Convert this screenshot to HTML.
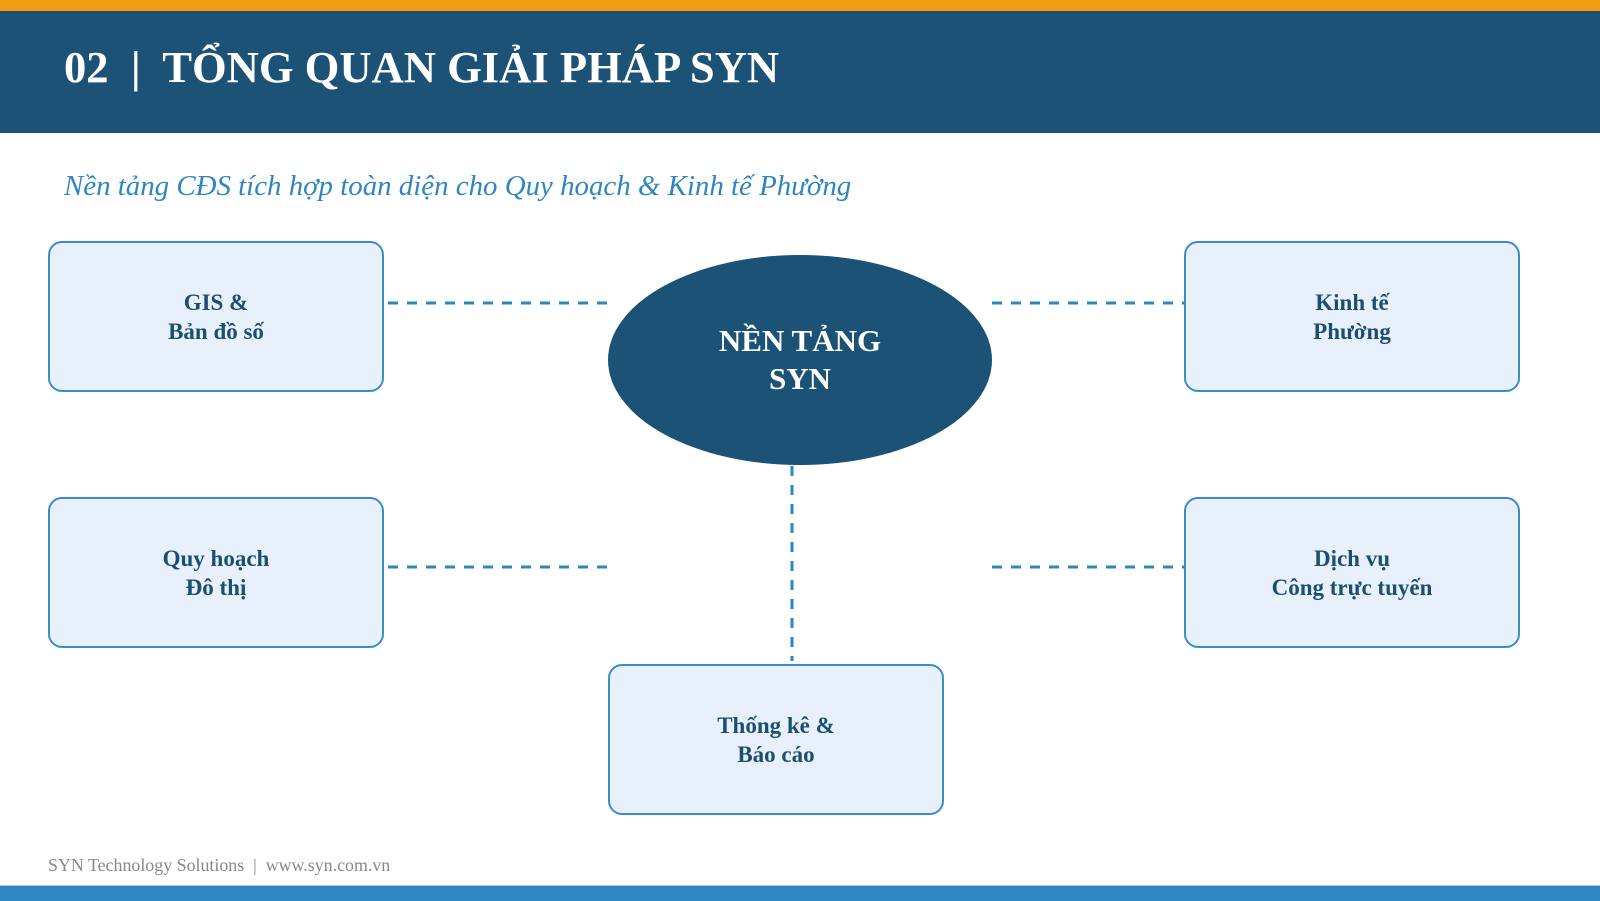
<!DOCTYPE html>
<html><head><meta charset="utf-8"><style>
body{margin:0;width:1600px;height:900px;position:relative;background:#fff;font-family:"Liberation Serif",serif;overflow:hidden}
.top{position:absolute;left:0;top:0;width:1600px;height:11px;background:#f39c12}
.hdr{position:absolute;left:0;top:11px;width:1600px;height:122px;background:#1b5276}
.title{position:absolute;left:64px;top:41px;color:#fff;font-weight:bold;font-size:44.6px;white-space:nowrap}
.sub{position:absolute;left:64px;top:170px;color:#2e86c1;font-style:italic;font-size:28.9px;white-space:nowrap}
.box{position:absolute;width:332px;height:147px;border:2.5px solid #3a8dc8;border-radius:14px;background:#e8f1fb;display:flex;align-items:center;justify-content:center;text-align:center;color:#1b4f72;font-weight:bold;font-size:23px;line-height:29px}
.foot{position:absolute;left:48px;top:855px;color:#888;font-size:17.9px;white-space:nowrap}
.bot{position:absolute;left:0;top:885px;width:1600px;height:15px;background:#2e86c1;border-top:1px solid #a9cce3}
</style></head><body>
<div class="top"></div><div class="hdr"></div>
<div class="title">02 &nbsp;|&nbsp; TỔNG QUAN GIẢI PHÁP SYN</div>
<div class="sub">Nền tảng CĐS tích hợp toàn diện cho Quy hoạch &amp; Kinh tế Phường</div>
<svg style="position:absolute;left:0;top:0" width="1600" height="900">
<g stroke="#2e86c1" stroke-width="3" stroke-dasharray="10,9" fill="none">
<line x1="388" y1="303" x2="608" y2="303"/><line x1="992" y1="303" x2="1184" y2="303"/>
<line x1="388" y1="567" x2="608" y2="567"/><line x1="992" y1="567" x2="1184" y2="567"/>
<line x1="792" y1="466" x2="792" y2="661"/></g>
<ellipse cx="800" cy="360" rx="192" ry="105" fill="#1b5276"/>
<text x="800" y="351" fill="#fff" font-family="Liberation Serif" font-weight="bold" font-size="31" text-anchor="middle">NỀN TẢNG</text>
<text x="800" y="389" fill="#fff" font-family="Liberation Serif" font-weight="bold" font-size="31" text-anchor="middle">SYN</text>
</svg>
<div class="box" style="left:48px;top:241px">GIS &amp;<br>Bản đồ số</div>
<div class="box" style="left:1184px;top:241px">Kinh tế<br>Phường</div>
<div class="box" style="left:48px;top:497px">Quy hoạch<br>Đô thị</div>
<div class="box" style="left:1184px;top:497px">Dịch vụ<br>Công trực tuyến</div>
<div class="box" style="left:608px;top:664px">Thống kê &amp;<br>Báo cáo</div>
<div class="foot">SYN Technology Solutions &nbsp;|&nbsp; www.syn.com.vn</div>
<div class="bot"></div>
</body></html>
